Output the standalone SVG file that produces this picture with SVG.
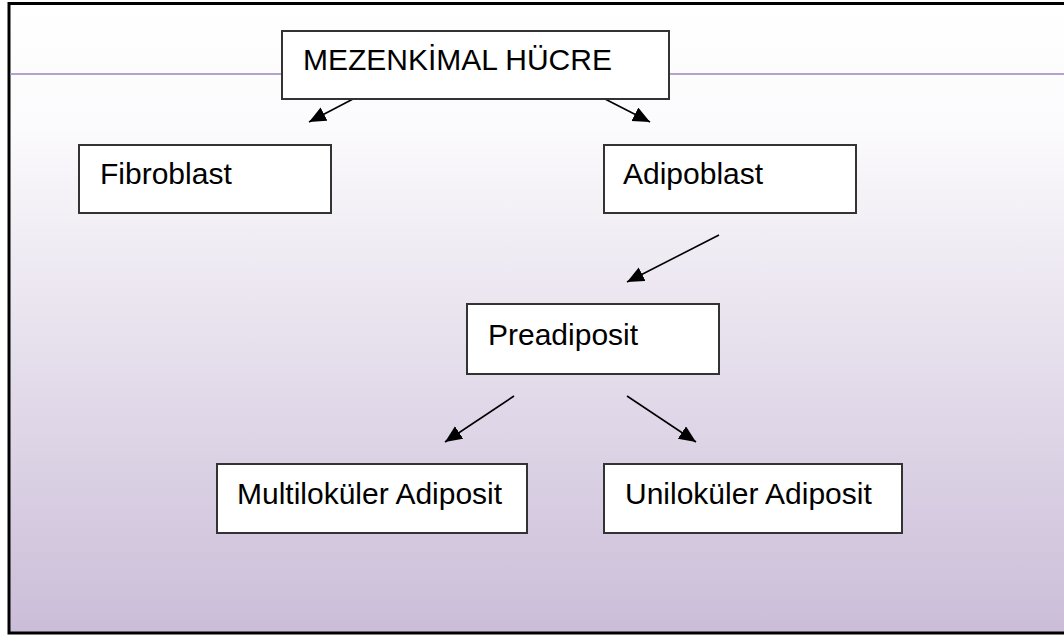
<svg xmlns="http://www.w3.org/2000/svg" width="1064" height="637" viewBox="0 0 1064 637">
  <defs>
    <linearGradient id="bg" x1="0" y1="0" x2="0" y2="1">
      <stop offset="0" stop-color="#ffffff"/>
      <stop offset="0.2" stop-color="#fbfafc"/>
      <stop offset="1" stop-color="#cbbdd8"/>
    </linearGradient>
    <marker id="arr" markerUnits="userSpaceOnUse" markerWidth="19" markerHeight="17" refX="17" refY="7.5" orient="auto">
      <path d="M0,0 L17,7.5 L0,15 Z" fill="#000"/>
    </marker>
    <style>
      .box { fill: #ffffff; stroke: #333333; stroke-width: 2; }
      .lbl { font-family: "Liberation Sans", Arial, sans-serif; font-size: 30px; fill: #000; }
      .con { stroke: #000; stroke-width: 1.6; fill: none; marker-end: url(#arr); }
    </style>
  </defs>
  <rect x="0" y="0" width="1064" height="637" fill="#ffffff"/>
  <rect id="frame" x="9" y="3.5" width="1060" height="629.5" fill="url(#bg)" stroke="#000" stroke-width="3"/>
  <line x1="10.5" y1="74" x2="1064" y2="74" stroke="#b4a3cf" stroke-width="2"/>

  <g id="connectors">
    <line class="con" x1="353" y1="99" x2="309" y2="122"/>
    <line class="con" x1="605" y1="99" x2="650" y2="122"/>
    <line class="con" x1="719" y1="235" x2="627" y2="282"/>
    <line class="con" x1="514" y1="396" x2="445" y2="442"/>
    <line class="con" x1="627" y1="396" x2="696" y2="442"/>
  </g>

  <g id="mezenkimal">
    <rect class="box" x="282" y="31" width="387" height="68"/>
    <text class="lbl" x="303" y="70">MEZENKİMAL HÜCRE</text>
  </g>
  <g id="fibroblast">
    <rect class="box" x="79" y="145" width="252" height="68"/>
    <text class="lbl" x="100" y="184">Fibroblast</text>
  </g>
  <g id="adipoblast">
    <rect class="box" x="604" y="145" width="252" height="68"/>
    <text class="lbl" x="623" y="184">Adipoblast</text>
  </g>
  <g id="preadiposit">
    <rect class="box" x="467" y="304" width="252" height="70"/>
    <text class="lbl" x="488" y="345">Preadiposit</text>
  </g>
  <g id="multilokuler">
    <rect class="box" x="217" y="464" width="310" height="69"/>
    <text class="lbl" x="237" y="504">Multiloküler Adiposit</text>
  </g>
  <g id="unilokuler">
    <rect class="box" x="604" y="464" width="298" height="69"/>
    <text class="lbl" x="625" y="504">Uniloküler Adiposit</text>
  </g>
</svg>
